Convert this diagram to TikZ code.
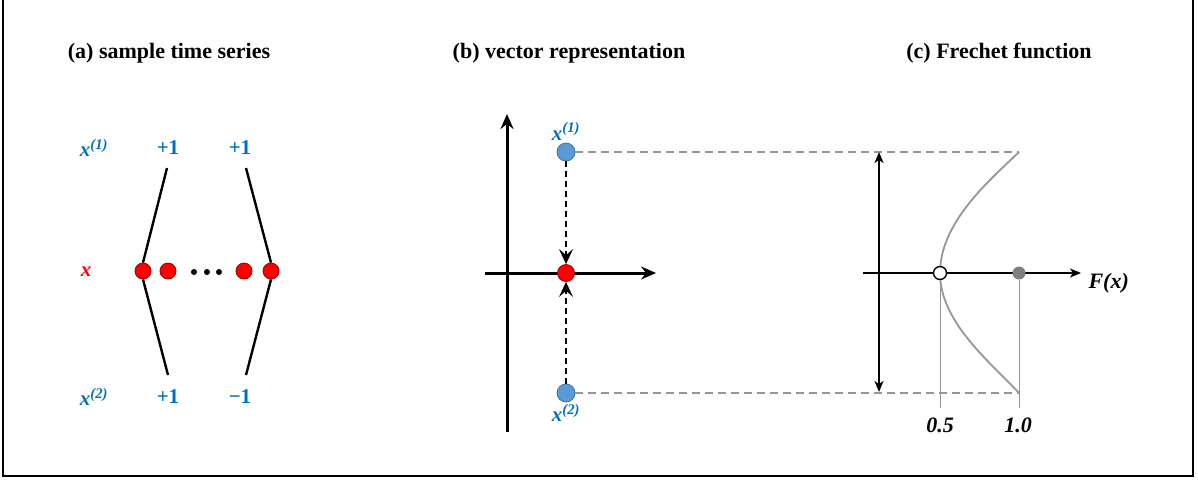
\documentclass[tikz,border=0pt]{standalone}
\usepackage{fontspec}
\setmainfont{Liberation Serif}
\usetikzlibrary{positioning, arrows.meta}
\definecolor{lblue}{RGB}{0,112,192}
\definecolor{bfill}{RGB}{91,155,213}
\definecolor{bdark}{RGB}{65,113,156}
\definecolor{dred}{RGB}{150,0,0}
\definecolor{lgray}{RGB}{150,150,150}

\begin{document}
\begin{tikzpicture}[
    x=1pt, y=-1pt,
    ttl/.style={font=\fontsize{22}{24}\selectfont\bfseries},
    lbl/.style={font=\fontsize{21}{23}\selectfont\bfseries, text=lblue},
    vlbl/.style={font=\fontsize{21}{23}\selectfont\bfseries\itshape},
    rdot/.style={circle, draw=dred, fill=red, minimum size=16pt, inner sep=0pt, line width=0.8pt},
    bdot/.style={circle, draw=bdark, fill=bfill, minimum size=18pt, inner sep=0pt, line width=0.8pt},
    edot/.style={circle, fill=black, minimum size=6pt, inner sep=0pt},
    gdash/.style={draw=lgray, line width=1.8pt, dash pattern=on 8pt off 5pt},
    bigtip/.style={-{Stealth[length=15pt, width=13pt, inset=5pt]}}
]
\useasboundingbox (0,0) rectangle (1198,480);
\draw[line width=2pt] (3,0) -- (3,476) -- (1193,476) -- (1193,0);

% titles
\node[ttl] (ta) at (169,53) {(a) sample time series};
\node[ttl] (tb) at (569,53) {(b) vector representation};
\node[ttl] (tc) at (999,53) {(c) Frechet function};

% (a) sample time series
\node[vlbl, text=lblue] (a1) at (94,148) {x\textsuperscript{(1)}};
\node[lbl] (a1p) at (168,148) {+1};
\node[lbl] (a1q) at (240,148) {+1};
\node[vlbl, text=red] (ax) at (86,272) {x};
\node[vlbl, text=lblue] (a2) at (94,397) {x\textsuperscript{(2)}};
\node[lbl] (a2p) at (168,397) {+1};
\node[lbl] (a2q) at (240,397) {−1};

\node[rdot] (d1) at (143,271) {};
\node[rdot] (d2) at (168,271) {};
\node[rdot] (d3) at (244,271) {};
\node[rdot] (d4) at (271,271) {};
\foreach \i/\xx in {1/194, 2/207, 3/219}
  \node[edot] (e\i) at (\xx,272) {};

\coordinate (c1) at (167,168);
\coordinate (c2) at (168,375);
\coordinate (c3) at (246,168);
\coordinate (c4) at (246,375);
\draw[line width=2.4pt] (c1) -- (d1.north);
\draw[line width=2.4pt] (d1.south) -- (c2);
\draw[line width=2.4pt] (c3) -- (d4.north);
\draw[line width=2.4pt] (d4.south) -- (c4);

% (b) vector representation
\coordinate (yb0) at (507,432);
\coordinate (yb1) at (507,114);
\coordinate (xb0) at (485,273);
\coordinate (xb1) at (656,273);
\draw[line width=3pt, bigtip] (yb0) -- (yb1);
\draw[line width=3pt, bigtip] (xb0) -- (xb1);

\node[bdot] (b1) at (566,152) {};
\node[bdot] (b2) at (566,393) {};
\node[rdot, minimum size=17pt] (bx) at (566,273) {};
\node[vlbl, text=lblue, above=-1pt of b1] (b1l) {x\textsuperscript{(1)}};
\node[vlbl, text=lblue, below=-2pt of b2] (b2l) {x\textsuperscript{(2)}};
\draw[line width=1.6pt, dash pattern=on 6pt off 4pt, -{Stealth[length=15pt, width=14pt, inset=6pt]}] (b1) -- (bx);
\draw[line width=1.6pt, dash pattern=on 6pt off 4pt, -{Stealth[length=15pt, width=14pt, inset=6pt]}] (b2) -- (bx);

% (c) Frechet function
\coordinate (f1) at (1019,152);
\coordinate (f2) at (1019,393);
\draw[gdash] (b1) -- (f1);
\draw[gdash] (b2) -- (f2);

\coordinate (yc0) at (879,392);
\coordinate (yc1) at (879,152);
\coordinate (xc0) at (863,273);
\coordinate (xc1) at (1081,273);
\draw[line width=1.8pt, {Stealth[length=11pt, width=9pt, inset=3pt]}-{Stealth[length=11pt, width=9pt, inset=3pt]}] (yc0) -- (yc1);
\draw[line width=1.8pt, -{Stealth[length=11pt, width=9pt, inset=3pt]}] (xc0) -- (xc1);
\node[vlbl, text=black, font=\fontsize{22}{24}\selectfont\bfseries\itshape, right=4pt of xc1, yshift=-10pt] (fx) {F(x)};

\coordinate (v0) at (940,273);
\draw[lgray, line width=1.8pt] (f1) .. controls (990,180) and (940,222) .. (v0)
  .. controls (940,322) and (990,362) .. (f2);
\node[circle, draw=black, fill=white, minimum size=13pt, inner sep=0pt, line width=1.4pt] (h) at (940,273) {};
\node[circle, fill=lgray!85!black, minimum size=13pt, inner sep=0pt] (g) at (1019,273) {};
\coordinate (h0) at (940,408);
\coordinate (g0) at (1019,408);
\draw[lgray, line width=1pt] (h.south) -- (h0);
\draw[lgray, line width=1pt] (g.south) -- (g0);
\node[vlbl, text=black, font=\fontsize{22}{24}\selectfont\bfseries\itshape] (l05) at (940,425) {0.5};
\node[vlbl, text=black, font=\fontsize{22}{24}\selectfont\bfseries\itshape] (l10) at (1018,425) {1.0};
\end{tikzpicture}
\end{document}
